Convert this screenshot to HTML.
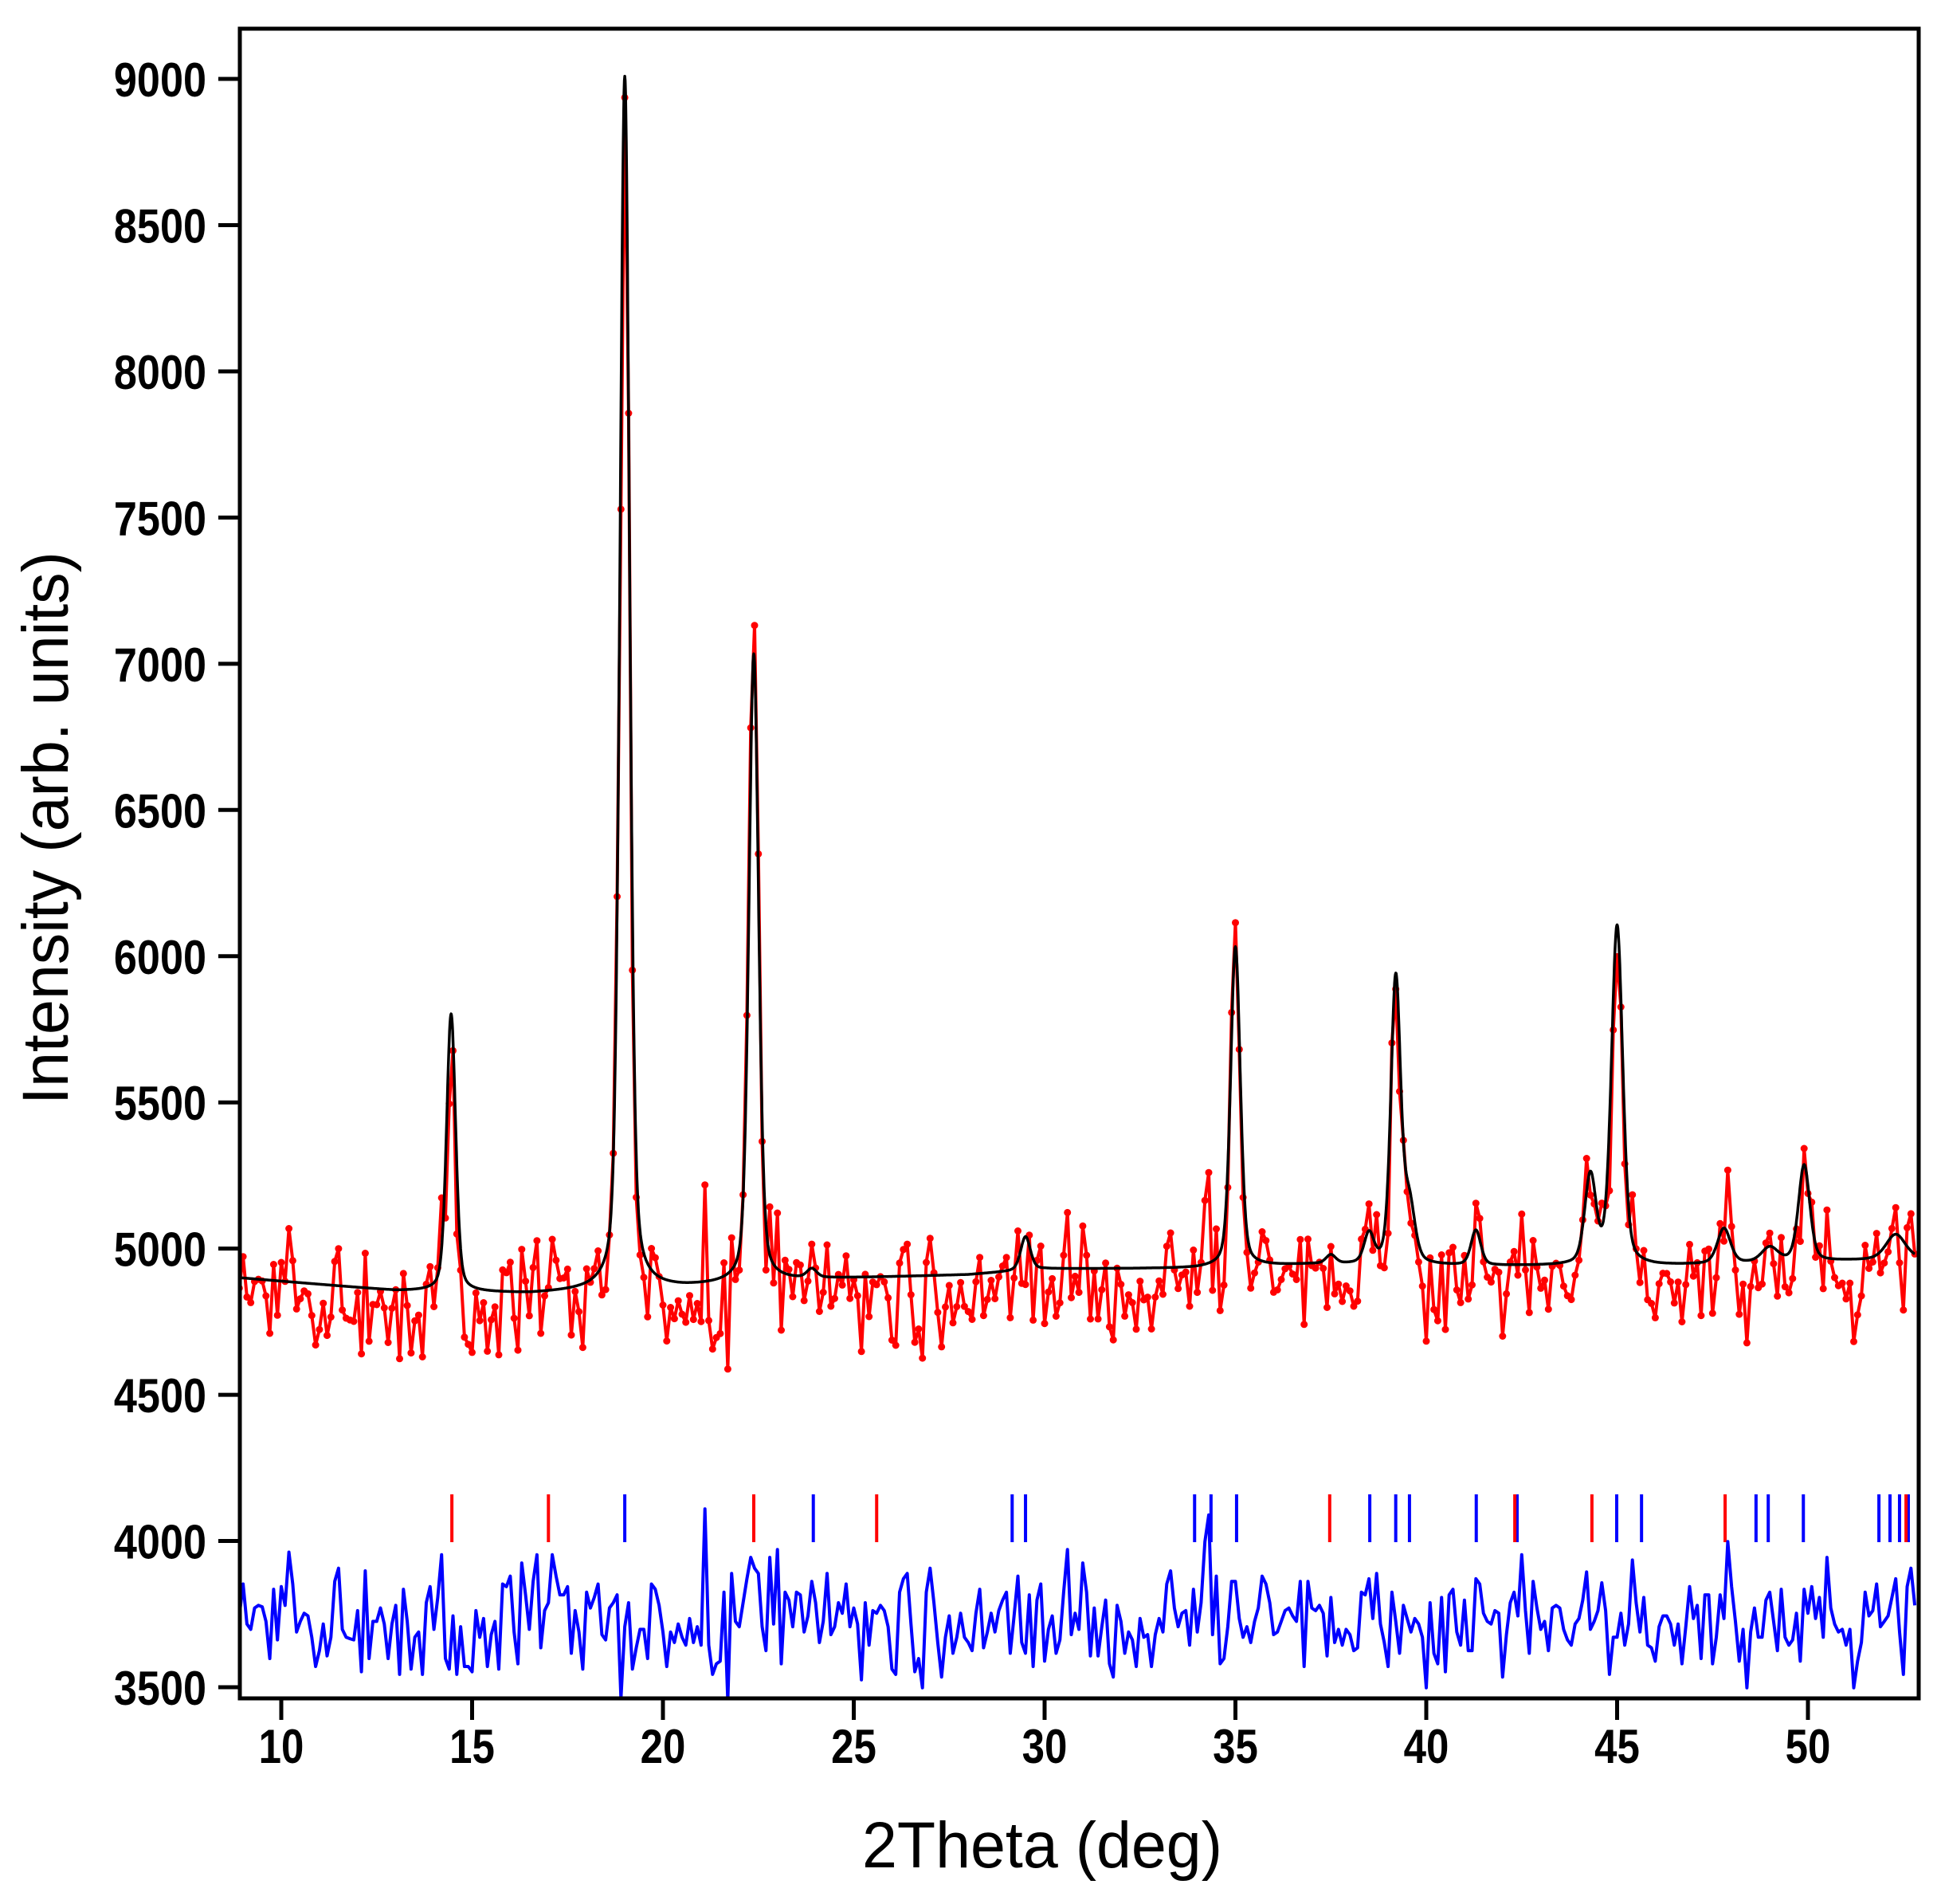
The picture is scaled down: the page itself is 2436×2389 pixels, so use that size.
<!DOCTYPE html>
<html><head><meta charset="utf-8"><style>
html,body{margin:0;padding:0;background:#fff}
svg{display:block}
.tk{font-family:"Liberation Sans",Arial,sans-serif;font-weight:bold;font-size:60px;fill:#000}
.tt{font-family:"Liberation Sans",Arial,sans-serif;font-size:82px;fill:#000}
</style></head><body>
<svg id="chart" xmlns="http://www.w3.org/2000/svg" width="2436" height="2389" viewBox="0 0 2436 2389">
<defs><clipPath id="plotclip"><rect x="301" y="36" width="2107" height="2095"/></clipPath></defs>
<rect x="0" y="0" width="2436" height="2389" fill="#fff"/>
<g id="yticks"></g>
<g id="xticks"></g>
<g clip-path="url(#plotclip)">
  <g id="phaseTicks"></g>
  <path id="diffLine" fill="none" stroke="#0000ff" stroke-width="4" stroke-linejoin="round"/>
  <path id="obsLine" fill="none" stroke="#ff0000" stroke-width="4" stroke-linejoin="round"/>
  <g id="obsDots"></g>
  <path id="calcLine" fill="none" stroke="#000" stroke-width="3.5" stroke-linejoin="round"/>
</g>
<rect x="301" y="36" width="2107" height="2095" fill="none" stroke="#000" stroke-width="5"/>
<text class="tt" x="1308" y="2343" text-anchor="middle" textLength="452" lengthAdjust="spacingAndGlyphs">2Theta (deg)</text>
<text class="tt" transform="translate(85,1039) rotate(-90)" text-anchor="middle" textLength="694" lengthAdjust="spacingAndGlyphs">Intensity (arb. units)</text>
</svg>
<script>
const xTickValues = [10,15,20,25,30,35,40,45,50];
const yTickValues = [3500,4000,4500,5000,5500,6000,6500,7000,7500,8000,8500,9000];
const thetaStart = 8.9;
const thetaStep = 0.1;
const bgTheta = [8.9,13,16.5,20.5,24,28,30,34,37,41,46,50,52.9];
const bgCounts = [4900,4855,4845,4865,4895,4910,4930,4932,4945,4940,4940,4955,4965];
const peakPos = [14.45,19.0,22.38,23.9,29.5,35.0,37.5,38.5,39.2,39.55,41.3,44.3,45.0,47.8,49.0,49.9,52.3];
const peakHeight = [950,4150,2150,30,115,1095,30,100,975,200,120,300,1160,120,50,330,85];
const peakFwhm = [0.28,0.3,0.3,0.3,0.3,0.3,0.3,0.3,0.3,0.35,0.3,0.35,0.35,0.4,0.5,0.35,0.6];
const residuals = [
-36,73,-64,-82,-9,0,-5,-55,-182,55,-118,64,0,182,73,-91,-55,-27,-36,-109,-209,-155,-64,-173,-109,82,127,-82,-109,-114,
-118,-18,-227,118,-182,-55,-55,-9,-64,-182,-64,0,-236,55,-55,-218,-109,-91,-236,9,64,-82,27,173,-182,-218,-36,-236,-73,-209,
-209,-227,-18,-109,-45,-209,-100,-55,-218,73,64,100,-91,-200,145,36,-82,82,173,-145,-18,9,173,100,36,36,64,-164,-18,-91,
-218,45,-9,27,73,-100,-118,-9,9,36,-318,-73,9,-218,-145,-82,-82,-182,73,55,0,-91,-209,-91,-127,-64,-109,-136,-45,-127,
-73,-136,330,-136,-236,-200,-191,45,-327,109,-55,-73,9,91,164,127,109,-73,-155,164,-64,191,-200,45,18,-73,45,36,-91,
-36,82,9,-127,-55,109,-100,-73,9,-27,73,-73,-9,-64,-255,9,-136,-18,-27,0,-18,-73,-218,-236,45,91,109,-64,-227,-182,
-282,45,127,9,-127,-245,-109,-36,-164,-109,-27,-109,-127,-155,-27,55,-145,-91,-27,-91,-18,18,45,-164,-36,100,-127,-164,36,-209,
18,73,-191,-82,-36,-164,-118,45,191,-100,-27,-82,145,45,-173,-9,-173,-73,18,-200,-245,0,-55,-164,-91,-118,-209,-45,-109,-100,
-209,-100,-45,-91,73,118,-9,-73,-27,-18,-136,55,-91,9,218,309,-100,100,-200,-182,-73,82,82,-45,-109,-73,-127,-55,-9,100,
73,9,-100,-91,-55,-18,-9,-36,-55,82,-209,82,-9,-18,0,-27,-173,27,-127,-82,-136,-82,-100,-155,-145,45,
36,91,-45,109,-64,-127,-209,45,-55,-164,0,-45,-91,-45,-64,-109,-282,9,-164,-200,27,-227,36,55,-91,-136,18,-155,-155,91,
73,-27,-55,-64,-18,-27,-245,-100,9,45,-36,173,-18,-164,82,-9,-82,-55,-155,-9,0,-9,-82,-118,-136,-64,-45,18,114,-82,
-55,-18,77,-18,-236,-109,-109,-27,-136,-64,155,9,-91,27,-136,-145,-191,-73,-36,-36,-64,-136,-64,-200,-73,64,-45,0,-182,36,
36,-200,-109,36,-45,218,64,-55,-191,-82,-282,-91,-9,-109,-109,18,45,-55,-155,55,-109,-136,-118,-27,-191,55,-27,64,-45,27,
-109,164,-9,-64,-91,-82,-136,-82,-282,-191,-127,45,-36,-18,73,-73,-55,-36,27,91,-91,-236,64,127,0
];
const diffOffset = 3780;
const hklRed = [14.47,17.0,22.38,25.6,37.47,42.32,44.34,47.83,52.57];
const hklBlue = [19.0,23.94,29.15,29.5,33.93,34.36,35.03,38.52,39.2,39.56,41.31,42.38,44.99,45.64,48.64,48.96,49.88,51.86,52.15,52.4,52.63];

const NS = "http://www.w3.org/2000/svg";
function xScale(v){ return 353 + (v - 10) * 47.9; }
function yScale(v){ return 2117 - (v - 3500) * 0.3669; }
function bgAt(t){
  for (let i = 0; i < bgTheta.length - 1; i++) {
    if (t <= bgTheta[i+1]) {
      const f = (t - bgTheta[i]) / (bgTheta[i+1] - bgTheta[i]);
      return bgCounts[i] + f * (bgCounts[i+1] - bgCounts[i]);
    }
  }
  return bgCounts[bgCounts.length - 1];
}
function calcAt(t){
  let s = bgAt(t);
  for (let k = 0; k < peakPos.length; k++) {
    const d = (t - peakPos[k]) / (peakFwhm[k] / 2);
    const lor = 1 / (1 + d * d);
    const gau = Math.exp(-Math.LN2 * d * d);
    s += peakHeight[k] * (0.35 * lor + 0.65 * gau);
  }
  return s;
}
function mk(tag, attrs){ const e = document.createElementNS(NS, tag); for (const k in attrs) e.setAttribute(k, attrs[k]); return e; }

const yt = document.getElementById('yticks');
yTickValues.forEach(v => {
  const y = yScale(v);
  const l = mk('line', {x1:274, x2:301, y1:y, y2:y, stroke:'#000', 'stroke-width':5});
  
  
  yt.appendChild(l);
  const t = mk('text', {class:'tk', 'text-anchor':'end', transform:'translate(259,' + (y + 22) + ') scale(0.87,1)'});
  t.textContent = v;
  
  
  yt.appendChild(t);
});
const xt = document.getElementById('xticks');
xTickValues.forEach(v => {
  const x = xScale(v);
  const l = mk('line', {x1:x, x2:x, y1:2131, y2:2158, stroke:'#000', 'stroke-width':5});
  
  
  xt.appendChild(l);
  const t = mk('text', {class:'tk', 'text-anchor':'middle', transform:'translate(' + x + ',2212) scale(0.85,1)'});
  t.textContent = v;
  
  
  xt.appendChild(t);
});

const pt = document.getElementById('phaseTicks');
function addHkl(arr, color, name){
  arr.forEach(v => {
    const x = xScale(v);
    const l = mk('line', {x1:x, x2:x, y1:1875, y2:1935, stroke:color, 'stroke-width':4});
    
    
    pt.appendChild(l);
  });
}
addHkl(hklBlue, '#0000ff', 'phase2-reflection-marker');
addHkl(hklRed, '#ff0000', 'phase1-reflection-marker');

let obsD = '', diffD = '', calcD = '';
const dots = document.getElementById('obsDots');
residuals.forEach((r, i) => {
  const t = thetaStart + i * thetaStep;
  const c = calcAt(t);
  const o = c + r;
  const x = xScale(t);
  obsD += (i ? 'L' : 'M') + x.toFixed(1) + ',' + yScale(o).toFixed(1);
  diffD += (i ? 'L' : 'M') + x.toFixed(1) + ',' + yScale(diffOffset + r).toFixed(1);
  const dot = mk('circle', {cx:x.toFixed(1), cy:yScale(o).toFixed(1), r:4.5, fill:'#ff0000'});
  
  
  dots.appendChild(dot);
});
const tEnd = thetaStart + (residuals.length - 1) * thetaStep;
for (let t = thetaStart, j = 0; t <= tEnd + 1e-9; t += 0.01, j++) {
  calcD += (j ? 'L' : 'M') + xScale(t).toFixed(1) + ',' + yScale(calcAt(t)).toFixed(1);
}
document.getElementById('obsLine').setAttribute('d', obsD);
document.getElementById('diffLine').setAttribute('d', diffD);
document.getElementById('calcLine').setAttribute('d', calcD);
</script>
</body></html>
